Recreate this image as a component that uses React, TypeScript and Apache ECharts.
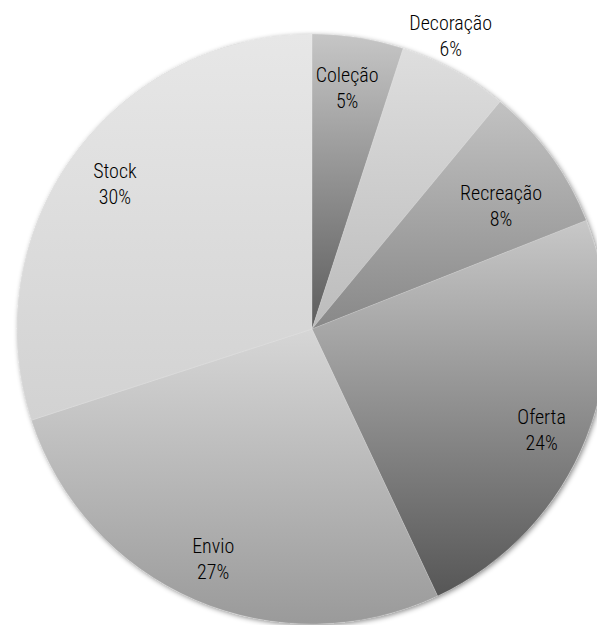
import React, { useEffect, useRef } from "react";
import * as echarts from "echarts";

const categories = ["Coleção", "Decoração", "Recreação", "Oferta", "Envio", "Stock"];
const values = [5, 6, 8, 24, 27, 30];

// per-slice vertical gradient: [top colour, bottom colour]
const sliceColors: [string, string][] = [
  ["#c6c6c6", "#5c5c5c"],
  ["#dedede", "#bcbcbc"],
  ["#c2c2c2", "#888888"],
  ["#c8c8c8", "#565656"],
  ["#d6d6d6", "#9a9a9a"],
  ["#e7e7e7", "#d2d2d2"],
];

// label placement: fraction of radius, angular offset in degrees
const labelRadius = [0.825, 1.1, 0.765, 0.85, 0.85, 0.83];
const labelAngleShift = [-0.7, -3.5, 2.9, 2.1, -0.2, 0.4];

const CX = 312;
const CY = 329;
const R = 295;

export default function App() {
  const ref = useRef<HTMLDivElement>(null);

  useEffect(() => {
    if (!ref.current) return;
    const chart = echarts.init(ref.current, undefined, { renderer: "svg" });
    const total = values.reduce((a, b) => a + b, 0);
    const mids: number[] = [];
    let acc = 0;
    values.forEach((v) => {
      mids.push(((acc + v / 2) / total) * 360);
      acc += v;
    });

    chart.setOption({
      animation: false,
      backgroundColor: "#ffffff",
      series: [
        {
          type: "pie",
          silent: true,
          center: [CX, CY],
          radius: [0, R],
          z: 1,
          label: { show: false },
          labelLine: { show: false },
          itemStyle: {
            color: "#cccccc",
            shadowBlur: 5,
            shadowColor: "rgba(0,0,0,0.45)",
            shadowOffsetX: 1.5,
            shadowOffsetY: 1.5,
          },
          data: [{ value: 1, name: "" }],
        },
        {
          type: "pie",
          z: 2,
          center: [CX, CY],
          radius: [0, R],
          startAngle: 90,
          clockwise: true,
          avoidLabelOverlap: false,
          labelLine: { show: false },
          label: {
            show: true,
            position: "inside",
            color: "#000000",
            fontFamily: "'Roboto Condensed', 'Liberation Sans Narrow', 'DejaVu Sans Condensed', sans-serif",
            fontWeight: 300,
            fontSize: 20,
            lineHeight: 26,
            align: "center",
            formatter: (p: any) => `${p.name}\n${Math.round(p.percent)}%`,
          },
          labelLayout: (p: any) => {
            const i = p.dataIndex;
            const a = ((mids[i] + labelAngleShift[i]) * Math.PI) / 180;
            const r = R * labelRadius[i];
            return {
              x: CX + r * Math.sin(a),
              y: CY - r * Math.cos(a),
              align: "center",
              verticalAlign: "middle",
            };
          },
          emphasis: { disabled: true },
          data: categories.map((name, i) => ({
            name,
            value: values[i],
            itemStyle: {
              borderWidth: 0.6,
              borderColor: "rgba(255,255,255,0.25)",
              color: new echarts.graphic.LinearGradient(0, 0, 0, 1, [
                { offset: 0, color: sliceColors[i][0] },
                { offset: 1, color: sliceColors[i][1] },
              ]),
            },
          })),
        },
      ],
    });
    return () => chart.dispose();
  }, []);

  return (
    <div
      ref={ref}
      style={{ position: "fixed", left: 0, top: 0, width: 597, height: 625 }}
    />
  );
}
